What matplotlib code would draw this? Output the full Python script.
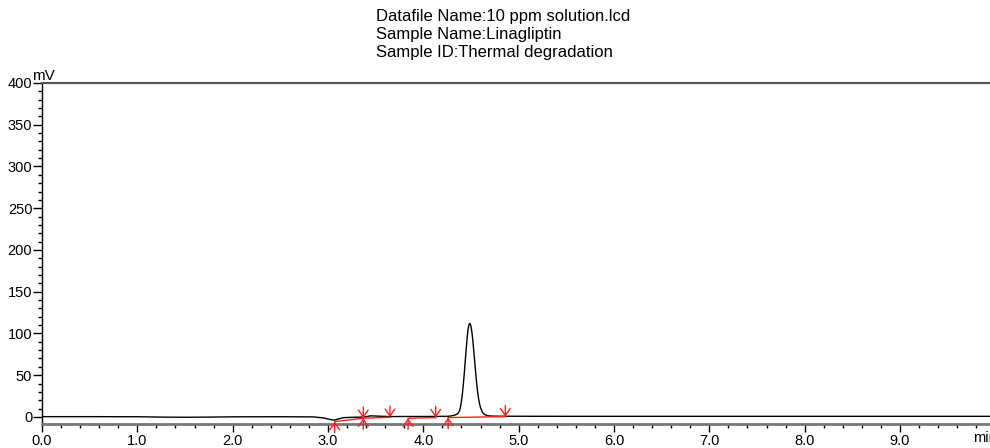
import numpy as np
import matplotlib
matplotlib.use("Agg")
import matplotlib.pyplot as plt
from matplotlib.ticker import MultipleLocator, FormatStrFormatter

plt.rcParams['font.family'] = ['Liberation Sans', 'DejaVu Sans']

# === Chromatogram trace (time in min, signal in mV) ===
time_min = [0.00, 0.50, 1.00, 1.30, 1.50, 1.70, 2.00, 2.50, 2.85, 2.95, 3.00, 3.04, 3.07,
            3.10, 3.16, 3.25, 3.37, 3.45, 3.55, 3.65, 3.80, 4.00, 4.15, 4.26, 4.30, 4.33,
            4.36, 4.38, 4.39, 4.40, 4.41, 4.42, 4.43, 4.44, 4.45, 4.46, 4.47, 4.48, 4.49,
            4.50, 4.51, 4.52, 4.53, 4.54, 4.55, 4.56, 4.57, 4.58, 4.59, 4.60, 4.62, 4.64,
            4.67, 4.70, 4.75, 4.85, 5.50, 6.50, 7.50, 8.50, 9.50, 10.00]
signal_mv = [0.3, 0.3, 0.2, -0.3, -0.4, -0.3, 0.1, 0.2, 0.0, -1.2, -2.5, -3.5, -3.8,
             -2.8, -0.9, -0.5, -0.2, 1.3, 0.8, 0.4, 0.5, 0.5, 0.6, 0.7, 1.3, 2.2,
             3.6, 7.5, 12.0, 19.0, 28.0, 39.5, 53.0, 67.5, 82.0, 95.5, 105.5, 111.0, 112.0,
             108.5, 101.0, 90.5, 78.0, 64.5, 51.5, 39.5, 29.5, 21.5, 15.5, 11.0, 5.5, 3.0,
             1.6, 1.1, 0.9, 0.8, 0.7, 0.7, 0.7, 0.7, 0.7, 0.7]

# integration baselines (start, end) pairs
base_t = [(3.07, 3.37), (3.37, 3.65), (3.84, 4.13), (4.26, 4.86)]
base_v = [(-5.6, -1.6), (-1.6, -0.4), (-1.6, -0.8), (-0.8, 0.3)]
peak_start_t = [3.07, 3.37, 3.84, 4.26]
peak_start_v = [-5.6, -1.6, -1.6, -0.8]
peak_end_t = [3.37, 3.65, 4.13, 4.86]
peak_end_v = [-1.6, -0.4, -0.8, 0.3]

header = ["Datafile Name:10 ppm solution.lcd",
          "Sample Name:Linagliptin",
          "Sample ID:Thermal degradation"]

fig = plt.figure(figsize=(9.9, 4.48), dpi=100)
ax = fig.add_axes([42 / 990, 1 - 424 / 448, 1 - 42 / 990, (424 - 83) / 448])

ax.plot(time_min, signal_mv, color="black", lw=1.0, zorder=3)

red = "#ff2020"
for (t0, t1), (v0, v1) in zip(base_t, base_v):
    ax.plot([t0, t1], [v0, v1], color=red, lw=1.0, zorder=4)

# start markers: up arrows below point; end markers: down arrows above point
arrow_kw = dict(arrowstyle="->,head_length=0.5,head_width=0.35", color=red, lw=1.0,
                mutation_scale=10, shrinkA=0, shrinkB=0)
for t, v in zip(peak_start_t, peak_start_v):
    ax.annotate("", xy=(t, v), xytext=(0, -8), textcoords="offset points",
                arrowprops=arrow_kw, zorder=5)
for t, v in zip(peak_end_t, peak_end_v):
    ax.annotate("", xy=(t, v), xytext=(0, 8), textcoords="offset points",
                arrowprops=arrow_kw, zorder=5)

ax.set_xlim(0, 9.944)
ax.set_ylim(-8.5, 400)

ax.spines["right"].set_visible(False)
ax.spines["top"].set_color("#555555")
ax.spines["top"].set_linewidth(1.5)
ax.spines["bottom"].set_color("#777777")
ax.spines["bottom"].set_linewidth(2.0)
ax.spines["left"].set_color("black")
ax.spines["left"].set_linewidth(1.0)

ax.xaxis.set_major_locator(MultipleLocator(1.0))
ax.xaxis.set_minor_locator(MultipleLocator(0.2))
ax.xaxis.set_major_formatter(FormatStrFormatter("%.1f"))
ax.yaxis.set_major_locator(MultipleLocator(50))
ax.yaxis.set_minor_locator(MultipleLocator(10))

ax.tick_params(axis="x", which="major", direction="out", length=6, width=1, labelsize=10.5, pad=1.5)
ax.tick_params(axis="x", which="minor", direction="out", length=3, width=1)
ax.tick_params(axis="y", which="major", direction="out", length=6.5, width=1, labelsize=10.5, pad=0.5)
ax.tick_params(axis="y", which="minor", direction="out", length=3, width=1)

fig.text(973 / 990, 1 - 438 / 448, "min", fontsize=10.5, va="center", ha="left")
fig.text(32 / 990, 1 - 80 / 448, "mV", fontsize=11, va="baseline", ha="left")

for i, line in enumerate(header):
    fig.text(376 / 990, 1 - (17 + 17.5 * i) / 448, line, fontsize=12, va="center", ha="left")

fig.savefig("out.png", dpi=100)
